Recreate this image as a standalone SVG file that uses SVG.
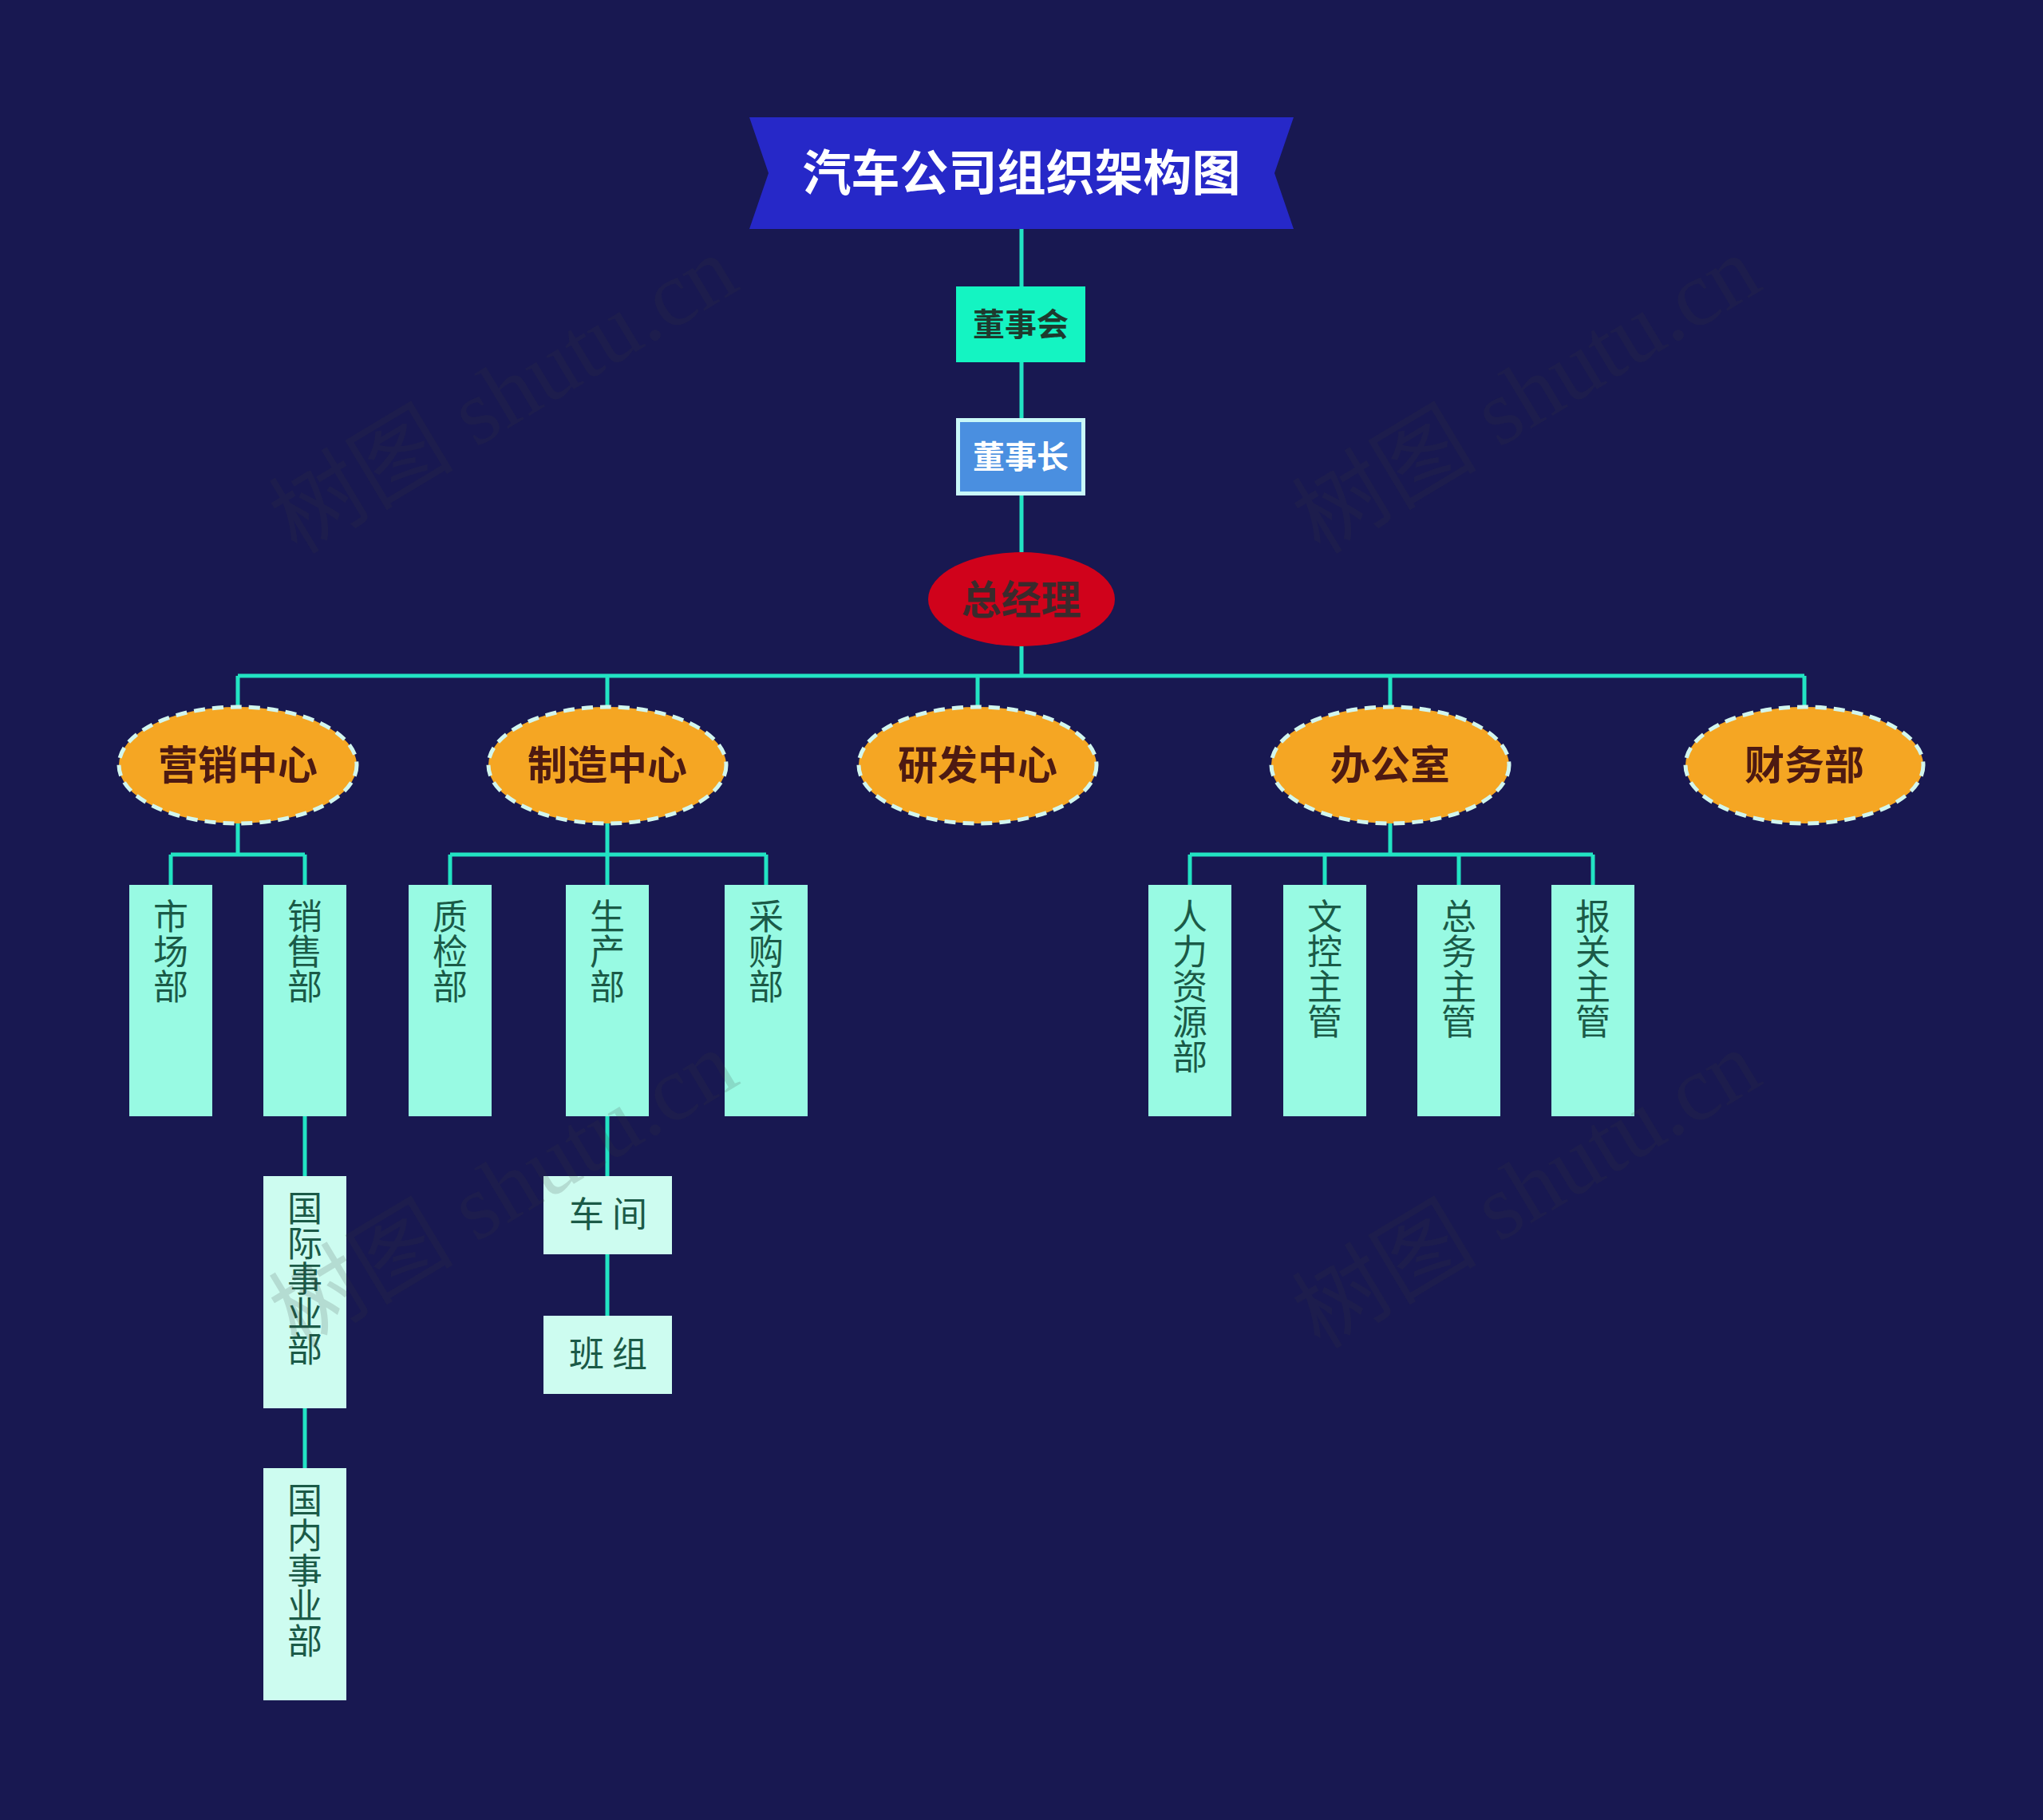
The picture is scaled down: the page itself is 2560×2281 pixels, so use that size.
<svg xmlns="http://www.w3.org/2000/svg" width="2560" height="2281" viewBox="0 0 2560 2281">
<defs>
<style>
.cjk{font-family:"Noto Sans CJK SC","Noto Sans",sans-serif;}
.title{font-size:61px;font-weight:700;fill:#ffffff;text-anchor:middle;}
.l1{font-size:40px;font-weight:700;text-anchor:middle;}
.gm{font-size:50px;font-weight:700;fill:#3a2a2c;text-anchor:middle;}
.l2{font-size:50px;font-weight:700;fill:#4d1a12;text-anchor:middle;}
.l2shape{fill:#f5a623;stroke:#d2f6ee;stroke-width:5;stroke-dasharray:14 9;}
.l3{fill:#98fae3;}
.l4{fill:#cdfcf0;}
.vt{font-size:44px;font-weight:400;fill:#1b5a47;}
.vert{writing-mode:vertical-rl;text-orientation:upright;}
.ht{text-anchor:middle;}
.conn{stroke:#22e3c3;stroke-width:5;fill:none;}
.wm{font-family:"Liberation Serif","Noto Sans CJK SC",serif;font-size:116px;fill:#3a3a3a;opacity:0.16;}
</style>
</defs>
<rect x="0" y="0" width="2560" height="2281" fill="#181851"/>

<g id="connectors">
<path class="conn" d="M1280 287 V359 M1280 454 V524 M1280 621 V692 M1280 810 V847"/>
<path class="conn" d="M298 847 H2261 M298 847 V886 M761 847 V886 M1225 847 V886 M1742 847 V886 M2261 847 V886"/>
<path class="conn" d="M298 1032 V1071 M214 1071 H382 M214 1071 V1109 M382 1071 V1109"/>
<path class="conn" d="M761 1032 V1071 M564 1071 H960 M564 1071 V1109 M761 1071 V1109 M960 1071 V1109"/>
<path class="conn" d="M1742 1032 V1071 M1491 1071 H1996 M1491 1071 V1109 M1660 1071 V1109 M1828 1071 V1109 M1996 1071 V1109"/>
<path class="conn" d="M382 1399 V1474 M382 1765 V1840 M761 1399 V1474 M761 1572 V1649"/>
</g>

<g id="title">
<polygon points="939,147 1621,147 1597,217 1621,287 939,287 963,217" fill="#2628c8"/>
<text class="cjk title" x="1280" y="239">汽车公司组织架构图</text>
</g>

<g id="board">
<rect x="1198" y="359" width="162" height="95" fill="#14f4c2"/>
<text class="cjk l1" x="1279" y="421" fill="#1e3a2e">董事会</text>
</g>

<g id="chairman">
<rect x="1200.5" y="526.5" width="157" height="92" fill="#4a8fe0" stroke="#c9f8f8" stroke-width="5"/>
<text class="cjk l1" x="1279" y="587" fill="#ffffff">董事长</text>
</g>

<g id="gm">
<ellipse cx="1280" cy="751" rx="117" ry="59" fill="#d0021b"/>
<text class="cjk gm" x="1280" y="770">总经理</text>
</g>

<g id="marketing">
<ellipse class="l2shape" cx="298" cy="959" rx="149" ry="73"/>
<text class="cjk l2" x="298" y="977">营销中心</text>
</g>
<g id="manufacturing">
<ellipse class="l2shape" cx="761" cy="959" rx="149" ry="73"/>
<text class="cjk l2" x="761" y="977">制造中心</text>
</g>
<g id="rnd">
<ellipse class="l2shape" cx="1225" cy="959" rx="149" ry="73"/>
<text class="cjk l2" x="1225" y="977">研发中心</text>
</g>
<g id="office">
<ellipse class="l2shape" cx="1742" cy="959" rx="149" ry="73"/>
<text class="cjk l2" x="1742" y="977">办公室</text>
</g>
<g id="finance">
<ellipse class="l2shape" cx="2261" cy="959" rx="149" ry="73"/>
<text class="cjk l2" x="2261" y="977">财务部</text>
</g>

<g id="market-dept">
<rect class="l3" x="162" y="1109" width="104" height="290"/>
<text class="cjk vt vert" x="214" y="1126">市场部</text>
</g>
<g id="sales-dept">
<rect class="l3" x="330" y="1109" width="104" height="290"/>
<text class="cjk vt vert" x="382" y="1126">销售部</text>
</g>
<g id="qc-dept">
<rect class="l3" x="512" y="1109" width="104" height="290"/>
<text class="cjk vt vert" x="564" y="1126">质检部</text>
</g>
<g id="production-dept">
<rect class="l3" x="709" y="1109" width="104" height="290"/>
<text class="cjk vt vert" x="761" y="1126">生产部</text>
</g>
<g id="purchase-dept">
<rect class="l3" x="908" y="1109" width="104" height="290"/>
<text class="cjk vt vert" x="960" y="1126">采购部</text>
</g>
<g id="hr-dept">
<rect class="l3" x="1439" y="1109" width="104" height="290"/>
<text class="cjk vt vert" x="1491" y="1126">人力资源部</text>
</g>
<g id="doc-ctrl">
<rect class="l3" x="1608" y="1109" width="104" height="290"/>
<text class="cjk vt vert" x="1660" y="1126">文控主管</text>
</g>
<g id="general-affairs">
<rect class="l3" x="1776" y="1109" width="104" height="290"/>
<text class="cjk vt vert" x="1828" y="1126">总务主管</text>
</g>
<g id="customs">
<rect class="l3" x="1944" y="1109" width="104" height="290"/>
<text class="cjk vt vert" x="1996" y="1126">报关主管</text>
</g>

<g id="intl-div">
<rect class="l4" x="330" y="1474" width="104" height="291"/>
<text class="cjk vt vert" x="382" y="1492">国际事业部</text>
</g>
<g id="domestic-div">
<rect class="l4" x="330" y="1840" width="104" height="291"/>
<text class="cjk vt vert" x="382" y="1858">国内事业部</text>
</g>
<g id="workshop">
<rect class="l4" x="681" y="1474" width="161" height="98"/>
<text class="cjk vt ht" x="762" y="1538">车 间</text>
</g>
<g id="team">
<rect class="l4" x="681" y="1649" width="161" height="98"/>
<text class="cjk vt ht" x="762" y="1713">班 组</text>
</g>

<g id="watermarks">
<text class="wm" x="372" y="696" transform="rotate(-31 372 696)">树图 shutu.cn</text>
<text class="wm" x="1654" y="696" transform="rotate(-31 1654 696)">树图 shutu.cn</text>
<text class="wm" x="372" y="1692" transform="rotate(-31 372 1692)">树图 shutu.cn</text>
<text class="wm" x="1654" y="1692" transform="rotate(-31 1654 1692)">树图 shutu.cn</text>
</g>
</svg>
